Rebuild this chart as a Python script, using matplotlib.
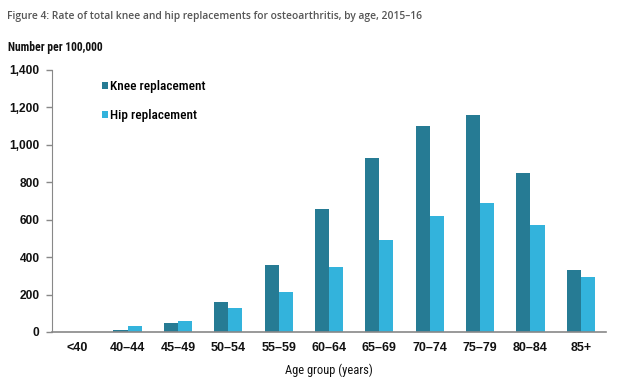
import matplotlib
matplotlib.use("Agg")
import matplotlib.pyplot as plt
import numpy as np

ages = ["<40", "40\u201344", "45\u201349", "50\u201354", "55\u201359", "60\u201364",
        "65\u201369", "70\u201374", "75\u201379", "80\u201384", "85+"]
knee = [0, 12, 48, 162, 360, 655, 931, 1099, 1160, 847, 333]
hip = [0, 30, 58, 127, 212, 349, 492, 622, 690, 572, 295]

knee_col = "#267b94"
hip_col = "#33b3dc"
narrow = "Roboto Condensed"
tickfont = "Liberation Sans"

fig = plt.figure(figsize=(6.24, 3.79), dpi=100)
ax = fig.add_axes([52 / 624, 1 - 332 / 379, (606 - 52) / 624, (332 - 70) / 379])

x = np.arange(len(ages))
w = 0.28
ax.bar(x - w / 2, knee, w, color=knee_col, label="Knee replacement")
ax.bar(x + w / 2, hip, w, color=hip_col, label="Hip replacement")

ax.set_xlim(-0.5, len(ages) - 0.5)
ax.set_ylim(0, 1400)
ax.set_yticks(range(0, 1401, 200))
ax.set_yticklabels([f"{v:,}" for v in range(0, 1401, 200)],
                   fontfamily=tickfont, fontsize=8.6, fontweight="bold", color="#111111")
ax.set_xticks(x)
ax.set_xticklabels(ages, fontfamily=tickfont, fontsize=9, fontweight="bold", color="#111111")
ax.tick_params(axis="x", length=0, pad=7)
ax.tick_params(axis="y", length=4, width=1, color="#888888", pad=5)

for s in ["top", "right"]:
    ax.spines[s].set_visible(False)
ax.spines["left"].set_color("#888888")
ax.spines["bottom"].set_color("#888888")
ax.spines["bottom"].set_linewidth(1.2)

ax.set_xlabel("Age group (years)", fontfamily=narrow, fontsize=9, color="#111111", labelpad=7)

ax.legend(loc="upper left", bbox_to_anchor=(0.0696, 1.008), frameon=False,
          handlelength=0.45, handleheight=0.45, handletextpad=0.15, labelspacing=1.25,
          prop={"family": narrow, "size": 9.5, "weight": "medium"})

fig.text(7 / 624, 1 - 17 / 379, "Figure 4: Rate of total knee and hip replacements for osteoarthritis, by age, 2015\u201316",
         fontfamily="Open Sans", fontsize=7.4, fontweight="semibold", color="#555555", va="center")
fig.text(8 / 624, 1 - 47 / 379, "Number per 100,000",
         fontfamily=narrow, fontsize=8.4, fontweight="bold", color="#111111", va="center")

fig.savefig("out.png", dpi=100)
